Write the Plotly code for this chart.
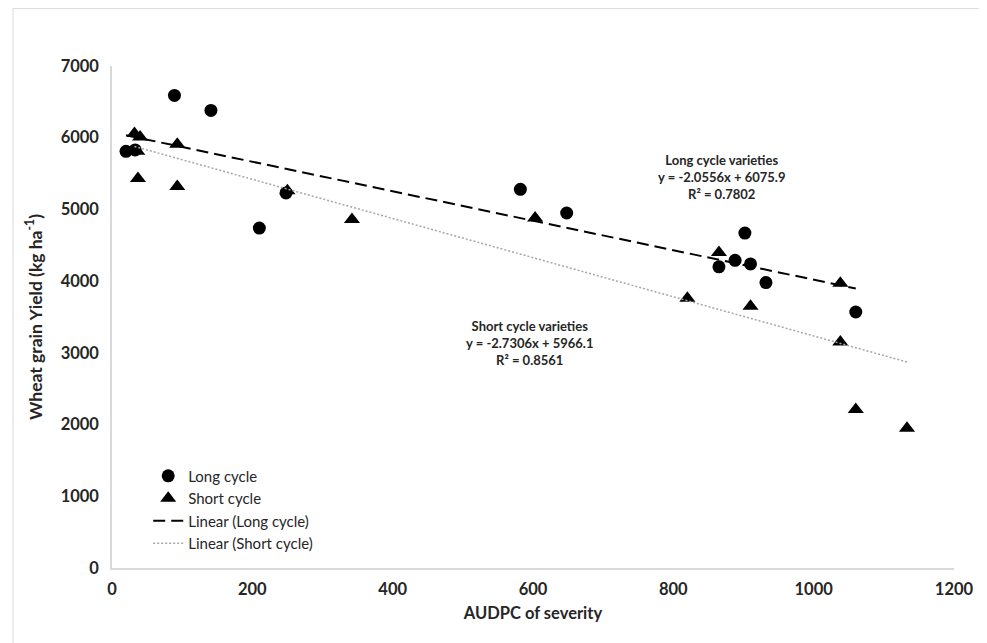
import plotly.graph_objects as go

# Long cycle varieties
long_x = [20, 33, 89, 141, 210, 248, 582, 648, 865, 888, 902, 910, 932, 1060]
long_y = [5810, 5830, 6590, 6380, 4740, 5230, 5280, 4950, 4200, 4290, 4670, 4240, 3980, 3570]

# Short cycle varieties
short_x = [32, 40, 36, 37, 93, 93, 250, 342, 603, 820, 865, 910, 1038, 1038, 1060, 1133]
short_y = [6060, 6010, 5810, 5430, 5910, 5320, 5260, 4860, 4880, 3760, 4400, 3650, 3970, 3150, 2210, 1950]

# Trend-line coefficients (as printed on the chart)
long_slope, long_intercept, long_r2 = -2.0556, 6075.9, 0.7802
short_slope, short_intercept, short_r2 = -2.7306, 5966.1, 0.8561

x_ticks = [0, 200, 400, 600, 800, 1000, 1200]
y_ticks = [0, 1000, 2000, 3000, 4000, 5000, 6000, 7000]

FONT = "Lato"
TXT = "#262626"

lx = [min(long_x), max(long_x)]
sx = [min(short_x), max(short_x)]

fig = go.Figure()
fig.add_trace(go.Scatter(x=long_x, y=long_y, mode="markers", name="Long cycle",
                         marker=dict(symbol="circle", size=13, color="black")))
fig.add_trace(go.Scatter(x=short_x, y=short_y, mode="markers", name="Short cycle",
                         marker=dict(symbol="triangle-up", size=14, color="black")))
fig.add_trace(go.Scatter(x=lx, y=[long_slope * v + long_intercept for v in lx], mode="lines",
                         name="Linear (Long cycle)",
                         line=dict(color="black", width=2, dash="12px,6px")))
fig.add_trace(go.Scatter(x=sx, y=[short_slope * v + short_intercept for v in sx], mode="lines",
                         name="Linear (Short cycle)",
                         line=dict(color="#a6a6a6", width=1.5, dash="2px,2px")))

fig.add_annotation(x=869, y=5447, xref="x", yref="y", showarrow=False,
                   text=f"Long cycle varieties<br>y = {long_slope}x + {long_intercept}<br>R² = {long_r2}",
                   font=dict(family=FONT, size=13, color=TXT, weight="bold"), align="center")
fig.add_annotation(x=595, y=3142, xref="x", yref="y", showarrow=False,
                   text=f"Short cycle varieties<br>y = {short_slope}x + {short_intercept}<br>R² = {short_r2}",
                   font=dict(family=FONT, size=13, color=TXT, weight="bold"), align="center")

# outer chart-area border
fig.add_shape(type="rect", xref="paper", yref="paper", x0=-0.1176, x1=1.038, y0=-0.17, y1=1.1147,
              line=dict(color="#d9d9d9", width=1), layer="below")

# the page adds an 8px body margin, so the figure is slightly smaller and margins reduced
fig.update_layout(
    width=979, height=635,
    margin=dict(l=104, r=33, t=58, b=75),
    paper_bgcolor="white", plot_bgcolor="white",
    font=dict(family=FONT, color=TXT),
    showlegend=True,
    legend=dict(x=0.043, y=0.216, xanchor="left", yanchor="top",
                font=dict(family=FONT, size=15, color=TXT),
                bgcolor="rgba(0,0,0,0)", tracegroupgap=0),
    xaxis=dict(range=[0, 1200], tickvals=x_ticks, showgrid=False, zeroline=False,
               showline=True, linecolor="#d9d9d9", linewidth=1.5, ticks="",
               tickfont=dict(family=FONT, size=16.5, color=TXT, weight="bold"),
               ticklabelstandoff=5,
               title=dict(text="AUDPC of severity", standoff=10,
                          font=dict(family=FONT, size=16.5, color=TXT, weight="bold"))),
    yaxis=dict(range=[0, 7000], tickvals=y_ticks, showgrid=False, zeroline=False,
               showline=True, linecolor="#d9d9d9", linewidth=1.5, ticks="",
               tickfont=dict(family=FONT, size=16.5, color=TXT, weight="bold"),
               ticklabelstandoff=8,
               title=dict(text="Wheat grain Yield (kg ha<sup>-1</sup>)", standoff=14,
                          font=dict(family=FONT, size=17.5, color=TXT, weight="bold"))),
)

fig.write_html("out.html")
